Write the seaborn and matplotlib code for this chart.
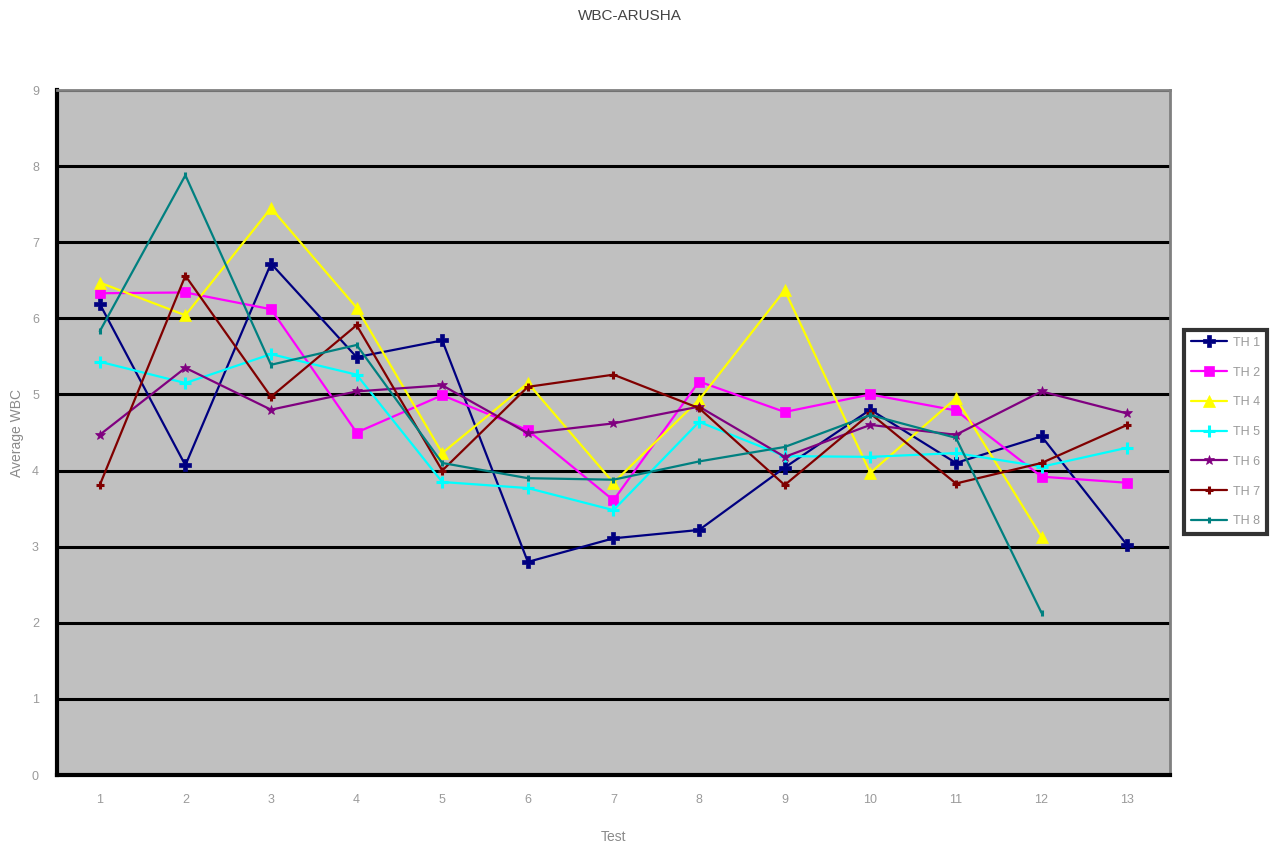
import numpy as np
import pandas as pd
import matplotlib
matplotlib.use("Agg")
import matplotlib.pyplot as plt
import seaborn as sns

tests = list(range(1, 14))
series_names = ["TH 1", "TH 2", "TH 4", "TH 5", "TH 6", "TH 7", "TH 8"]

th1 = [6.19, 4.07, 6.72, 5.49, 5.71, 2.80, 3.11, 3.22, 4.04, 4.80, 4.10, 4.45, 3.02]
th2 = [6.33, 6.34, 6.12, 4.50, 4.99, 4.53, 3.61, 5.17, 4.77, 5.00, 4.79, 3.92, 3.84]
th4 = [6.47, 6.04, 7.45, 6.14, 4.23, 5.15, 3.84, 4.93, 6.37, 3.97, 4.95, 3.13, np.nan]
th5 = [5.43, 5.15, 5.53, 5.26, 3.85, 3.77, 3.48, 4.64, 4.19, 4.18, 4.23, 4.05, 4.30]
th6 = [4.47, 5.35, 4.80, 5.04, 5.12, 4.49, 4.62, 4.84, 4.18, 4.60, 4.47, 5.04, 4.75]
th7 = [3.81, 6.56, 4.97, 5.91, 4.00, 5.10, 5.26, 4.82, 3.81, 4.75, 3.83, 4.10, 4.60]
th8 = [5.83, 7.88, 5.39, 5.65, 4.10, 3.90, 3.88, 4.12, 4.31, 4.73, 4.43, 2.13, np.nan]

colors = ["#000080", "#FF00FF", "#FFFF00", "#00FFFF", "#800080", "#800000", "#008080"]
markers = ["P", "s", "^", "+", "*", "+", "|"]
marker_sizes = [8, 7, 8, 8, 7, 6, 5]

values = [th1, th2, th4, th5, th6, th7, th8]
frames = []
for name, vals in zip(series_names, values):
    frames.append(pd.DataFrame({"Test": tests, "WBC": vals, "Series": name}))
df = pd.concat(frames, ignore_index=True).dropna()

sns.set_theme(style="white")
plt.rcParams["font.family"] = ["Liberation Sans", "DejaVu Sans"]

fig = plt.figure(figsize=(12.77, 8.46), dpi=100)
ax = fig.add_axes([0.0446, 0.0839, 0.8716, 0.8097])
ax.set_facecolor("#C0C0C0")

for i, name in enumerate(series_names):
    sub = df[df["Series"] == name]
    sns.lineplot(data=sub, x="Test", y="WBC", ax=ax, color=colors[i],
                 marker=markers[i], markersize=marker_sizes[i],
                 markeredgewidth=2.2 if markers[i] in ["+", "|"] else 0.5,
                 markeredgecolor=colors[i], linewidth=1.6, label=name,
                 estimator=None, sort=False)

ax.set_xlim(0.5, 13.5)
ax.set_ylim(0, 9)
ax.set_yticks(range(0, 10))
ax.yaxis.grid(True, color="black", linewidth=2.2)
ax.xaxis.grid(False)
ax.set_axisbelow(True)

ax.set_xticks(tests)
ax.set_xticks(np.arange(0.5, 14.0, 1.0), minor=True)
ax.tick_params(axis="x", which="major", length=0, pad=14, labelsize=9, colors="#9a9a9a")
ax.tick_params(axis="x", which="minor", length=6, width=2, color="black", direction="out")
ax.tick_params(axis="y", which="major", length=5, width=2, color="black", direction="out",
               labelsize=9, labelcolor="#9a9a9a", pad=8)

for side in ["left", "bottom"]:
    ax.spines[side].set_color("black")
    ax.spines[side].set_linewidth(3)
for side in ["top", "right"]:
    ax.spines[side].set_color("#808080")
    ax.spines[side].set_linewidth(2)

ax.set_xlabel("Test", fontsize=10, color="#8a8a8a", labelpad=17)
ax.set_ylabel("Average WBC", fontsize=10, color="#8a8a8a", labelpad=6)

fig.text(630 / 1277, 1 - 16 / 846, "WBC-ARUSHA", ha="center", va="center",
         fontsize=11, color="#444444")

handles, labels = ax.get_legend_handles_labels()
if ax.legend_:
    ax.legend_.remove()
leg = fig.legend(handles, labels, loc="upper left", bbox_to_anchor=(1184 / 1277, 1 - 330 / 846),
                 frameon=True, fancybox=False, fontsize=9, labelcolor="#9a9a9a",
                 handlelength=2.9, borderpad=0.55, borderaxespad=0, labelspacing=1.42,
                 handletextpad=0.45)
leg.get_frame().set_edgecolor("black")
leg.get_frame().set_linewidth(3)
leg.get_frame().set_facecolor("white")

fig.savefig("out.png", dpi=100, facecolor="white")
